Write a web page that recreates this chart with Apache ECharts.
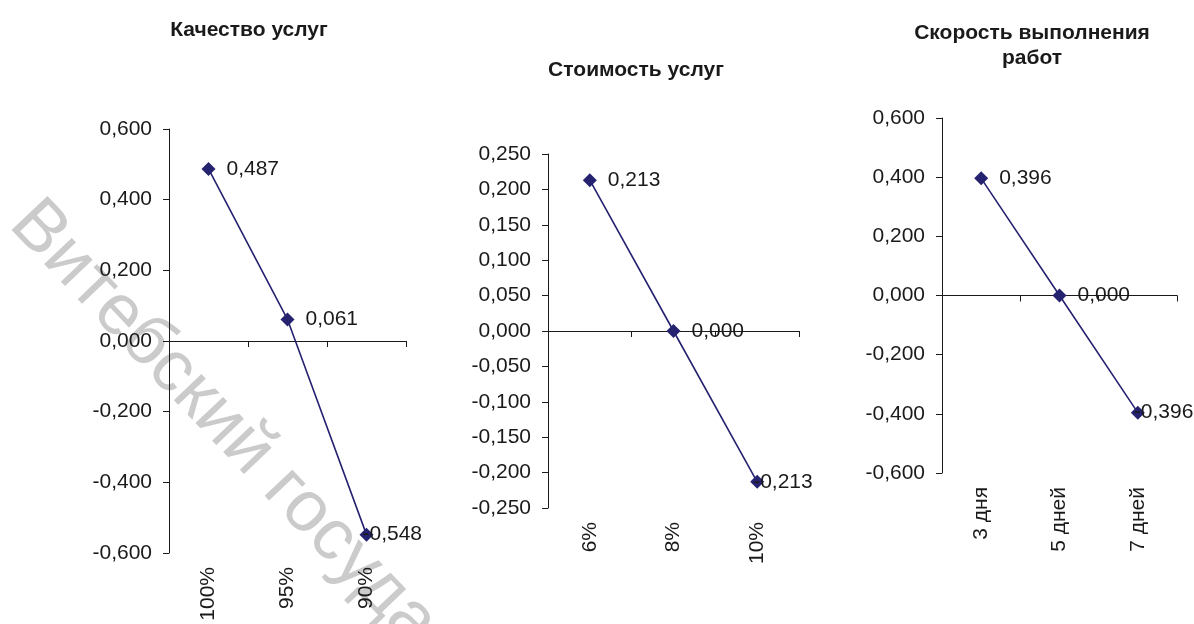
<!DOCTYPE html>
<html>
<head>
<meta charset="utf-8">
<script src="https://cdn.jsdelivr.net/npm/echarts@6/dist/echarts.min.js"></script>
<style>
  html, body { margin: 0; padding: 0; background: #fff; }
  #chart { width: 1194px; height: 624px; }
</style>
</head>
<body>
<div id="chart"></div>
<script>
// Quality of services
const qualityTitle = 'Качество услуг';
const qualityCats = ['100%', '95%', '90%'];
const qualityValues = [0.487, 0.061, -0.548];
const qualityTicks = { min: -0.6, max: 0.6, interval: 0.2 };

// Cost of services
const costTitle = 'Стоимость услуг';
const costCats = ['6%', '8%', '10%'];
const costValues = [0.213, 0.000, -0.213];
const costTicks = { min: -0.25, max: 0.25, interval: 0.05 };

// Speed of work
const speedTitle = 'Скорость выполнения\nработ';
const speedCats = ['3 дня', '5 дней', '7 дней'];
const speedValues = [0.396, 0.000, -0.396];
const speedTicks = { min: -0.6, max: 0.6, interval: 0.2 };

const watermarkText = 'Витебский государственный университет';

const FONT = '"Liberation Sans", Arial, sans-serif';
const INK = '#1a1a1a';
const NAVY = '#25226f';
const LABEL_SIZE = 21;

function fmt(v) {
  return Math.abs(v) < 1e-9 ? '0,000' : v.toFixed(3).replace('.', ',');
}

const panels = [
  { title: qualityTitle, cats: qualityCats, values: qualityValues, ticks: qualityTicks,
    grid: { left: 169, top: 129, width: 237, height: 424 }, titlePos: { x: 244, y: 13 } },
  { title: costTitle, cats: costCats, values: costValues, ticks: costTicks,
    grid: { left: 548, top: 154, width: 251, height: 354 }, titlePos: { x: 631, y: 53 } },
  { title: speedTitle, cats: speedCats, values: speedValues, ticks: speedTicks,
    grid: { left: 942, top: 118, width: 235, height: 355 }, titlePos: { x: 1027, y: 16 } }
];

const option = {
  animation: false,
  backgroundColor: '#fff',
  textStyle: { fontFamily: FONT },
  title: panels.map(p => ({
    text: p.title,
    left: p.titlePos.x,
    top: p.titlePos.y,
    textAlign: 'center',
    textStyle: { fontFamily: FONT, fontWeight: 'bold', fontSize: 21, color: INK, lineHeight: 25 }
  })),
  grid: panels.map(p => Object.assign({ containLabel: false }, p.grid)),
  xAxis: [],
  yAxis: [],
  series: [],
  graphic: [{
    type: 'text',
    z: -100,
    x: 22,
    y: 212,
    rotation: -0.81,
    style: {
      text: watermarkText,
      fontFamily: FONT,
      fontSize: 72,
      fill: '#cbcbcb',
      textAlign: 'left',
      textVerticalAlign: 'middle'
    }
  }]
};

panels.forEach((p, i) => {
  // axis line drawn through zero with boundary ticks
  option.xAxis.push({
    type: 'category', gridIndex: i, data: p.cats, position: 'bottom',
    axisLine: { onZero: true, lineStyle: { color: INK, width: 1 } },
    axisTick: { show: true, length: 6, lineStyle: { color: INK } },
    axisLabel: { show: false },
    splitLine: { show: false }
  });
  // category labels along the bottom edge
  option.xAxis.push({
    type: 'category', gridIndex: i, data: p.cats, position: 'bottom',
    axisLine: { show: false, onZero: false },
    axisTick: { show: false },
    axisLabel: { show: true, rotate: 90, margin: 14, fontSize: LABEL_SIZE, color: INK, fontFamily: FONT },
    splitLine: { show: false }
  });
  option.yAxis.push({
    type: 'value', gridIndex: i,
    min: p.ticks.min, max: p.ticks.max, interval: p.ticks.interval,
    axisLine: { show: true, lineStyle: { color: INK, width: 1 } },
    axisTick: { show: true, length: 6, lineStyle: { color: INK } },
    axisLabel: { margin: 17, fontSize: LABEL_SIZE, color: INK, fontFamily: FONT, formatter: fmt },
    splitLine: { show: false }
  });
  option.series.push({
    type: 'line',
    xAxisIndex: i * 2,
    yAxisIndex: i,
    symbol: 'diamond',
    symbolSize: 14,
    lineStyle: { color: NAVY, width: 1.6 },
    itemStyle: { color: NAVY },
    z: 5,
    data: p.values.map(v => ({
      value: v,
      label: { offset: v < 0 ? [-22, 0] : [0, 0] }
    })),
    label: {
      show: true, position: 'right', distance: 11,
      fontSize: LABEL_SIZE, color: INK, fontFamily: FONT,
      formatter: d => fmt(d.value)
    }
  });
});

const chart = echarts.init(document.getElementById('chart'), null, { renderer: 'canvas' });
chart.setOption(option);
</script>
</body>
</html>
